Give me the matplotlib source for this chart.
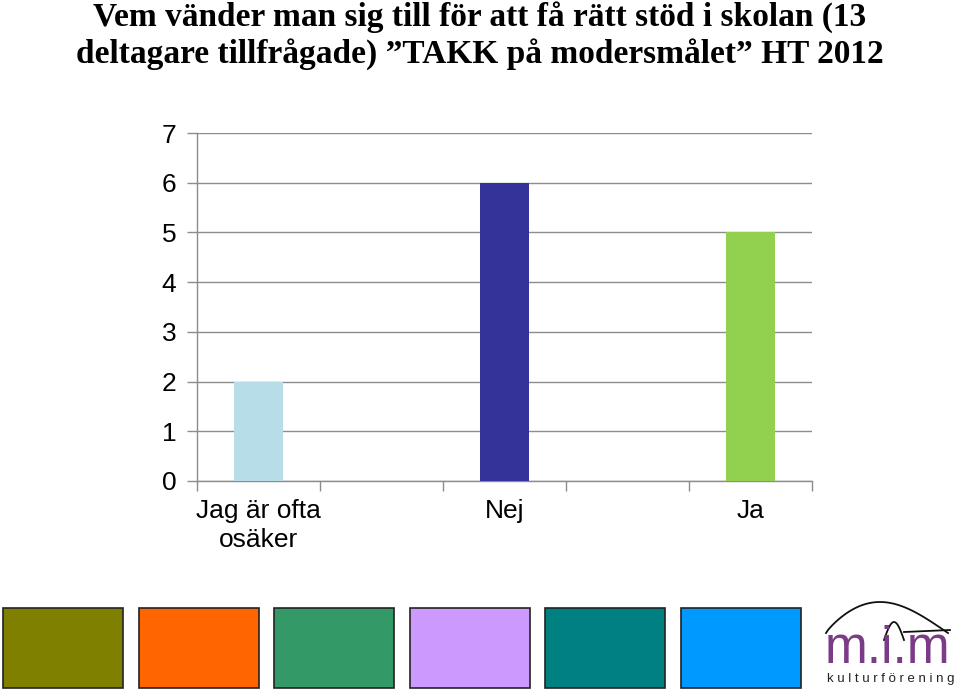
import matplotlib.pyplot as plt
import numpy as np
from matplotlib.patches import Rectangle
from matplotlib.lines import Line2D

# data (empty slots 2 and 4 carry no bar)
categories = ["Jag är ofta\nosäker", "", "Nej", "", "Ja"]
values = [2, np.nan, 6, np.nan, 5]
bar_colors = ["#B7DEE8", "#FFFFFF", "#333399", "#FFFFFF", "#92D050"]
yticks = [0, 1, 2, 3, 4, 5, 6, 7]
swatch_colors = ["#808000", "#FF6600", "#339966", "#CC99FF", "#008080", "#0099FF"]

title = ("Vem vänder man sig till för att få rätt stöd i skolan (13\n"
         "deltagare tillfrågade) \u201dTAKK på modersmålet\u201d HT 2012")

W, H = 959, 692
fig = plt.figure(figsize=(W / 100, H / 100), dpi=100)
fig.patch.set_facecolor("white")

fig.text(0.5, 1 - 1 / H, title, ha="center", va="top", fontsize=24,
         fontweight="bold", family="Liberation Serif", linespacing=1.22)

grid_col = "#8C8C8C"
ax = fig.add_axes([197 / W, 1 - 481 / H, (812 - 197) / W, (481 - 133) / H])
x = np.arange(len(categories))
ax.bar(x, values, width=0.4, color=bar_colors, zorder=3)
ax.set_xlim(-0.5, len(categories) - 0.5)
ax.set_ylim(0, 7)
ax.set_yticks(yticks)
ax.yaxis.grid(True, color=grid_col, linewidth=1.0, zorder=0)
ax.set_xticks(x)
ax.set_xticklabels(categories, fontsize=19, family="Liberation Sans",
                   linespacing=1.25)
ax.set_xticks(np.arange(-0.5, len(categories)), minor=True)
ax.tick_params(axis="x", which="major", length=0, pad=13)
ax.tick_params(axis="x", which="minor", length=7, color=grid_col, width=1)
ax.tick_params(axis="y", length=7, color=grid_col, width=1, pad=8,
               labelsize=19)
for lbl in ax.get_yticklabels():
    lbl.set_family("Liberation Sans")
for s in ["top", "right"]:
    ax.spines[s].set_visible(False)
for s in ["left", "bottom"]:
    ax.spines[s].set_color(grid_col)
    ax.spines[s].set_linewidth(1.0)

# colour swatches along the bottom
for i, c in enumerate(swatch_colors):
    x0 = 3 + i * 135.6
    fig.patches.append(Rectangle((x0 / W, 1 - 688 / H), 120 / W, 80 / H,
                                 transform=fig.transFigure, facecolor=c,
                                 edgecolor="#222222", linewidth=1.2))

# m.i.m logo
purple = "#7B3B86"
fig.text(825 / W, 1 - 663 / H, "m.i.m", fontsize=37, color=purple,
         family="Liberation Sans", ha="left", va="baseline")
fig.text(827 / W, 1 - 682 / H, "k u l t u r f ö r e n i n g", fontsize=9.5,
         color="#222222", family="Liberation Sans", ha="left", va="baseline")
t = np.linspace(0, 1, 60)
ox = 826 + t * 122
oy = 633 - 31 * np.sin(np.pi * t ** 0.85)
fig.lines.append(Line2D(ox / W, 1 - oy / H, transform=fig.transFigure,
                        color="#111111", linewidth=1.3))
ix = 884 + t * 20
iy = 640 - 18 * np.sin(np.pi * t)
fig.lines.append(Line2D(ix / W, 1 - iy / H, transform=fig.transFigure,
                        color="#111111", linewidth=1.3))
fig.lines.append(Line2D([904 / W, 950 / W], [1 - 632 / H, 1 - 630 / H],
                        transform=fig.transFigure, color="#111111",
                        linewidth=1.3))

fig.savefig("out.png", dpi=100, facecolor="white")
